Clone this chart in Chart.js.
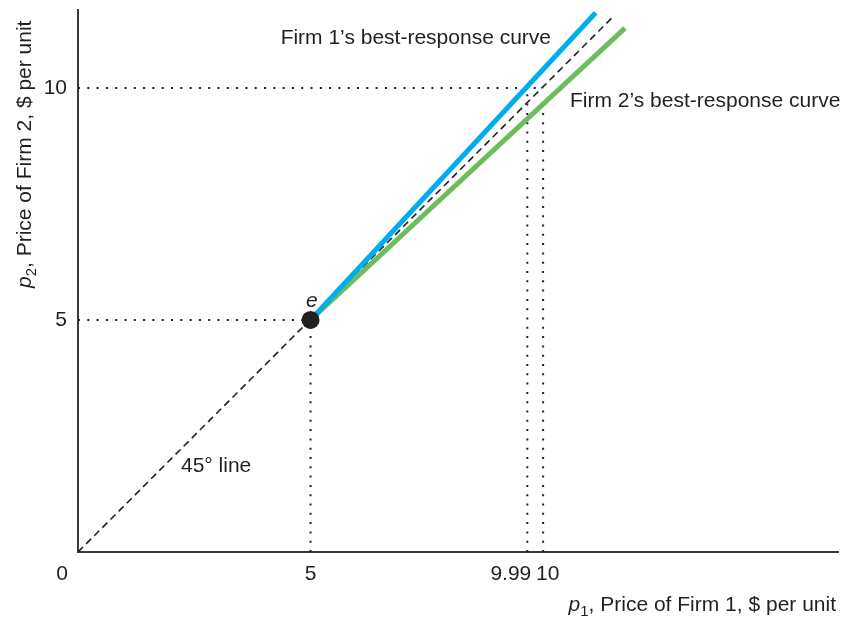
<!DOCTYPE html>
<html>
<head>
<meta charset="utf-8">
<script src="https://cdn.jsdelivr.net/npm/chart.js@4.4.1/dist/chart.umd.min.js"></script>
<style>
  html, body { margin: 0; padding: 0; background: #fff; }
  #wrap { width: 859px; height: 618px; }
</style>
</head>
<body>
<div id="wrap"><canvas id="chart" width="859" height="618"></canvas></div>
<script>
// --- data (axis units) ---
const p1Ticks = [5, 9.66, 10];
const p1TickLabels = ['5', '9.99', '10'];
const p2Ticks = [5, 10];
const p2TickLabels = ['5', '10'];

const diagP1 = [0, 11.5];
const diagP2 = [0, 11.53];
const firm1P1 = [5, 11.13];
const firm1P2 = [5, 11.62];
const firm2P1 = [5, 11.76];
const firm2P2 = [5, 11.29];
const eqP1 = [5];
const eqP2 = [5];

// dotted guide lines: [x0, y0, x1, y1]
const guide10H = [0, 10, 10, 10];
const guide5H = [0, 5, 5, 5];
const guide5V = [5, 0, 5, 5];
const guide999V = [9.66, 0, 9.66, 10.02];
const guide10V = [10, 0, 10, 9.7];

const FONT = '"Liberation Sans", Arial, Helvetica, sans-serif';
const FS = 21;
const TEXT = '#231f20';

function pts(xs, ys) {
  return xs.map((x, i) => ({ x: x, y: ys[i] }));
}
function seg(g) {
  return [{ x: g[0], y: g[1] }, { x: g[2], y: g[3] }];
}
function dotted(g) {
  return {
    data: seg(g), showLine: true, borderColor: '#231f20', borderWidth: 2,
    borderDash: [2, 7.3], pointRadius: 0, fill: false, order: 5
  };
}

// draws the tick labels, titles and annotations
const textPlugin = {
  id: 'texts',
  afterDraw(chart) {
    const ctx = chart.ctx;
    const xs = chart.scales.x, ys = chart.scales.y;
    ctx.save();
    ctx.fillStyle = TEXT;
    ctx.font = FS + 'px ' + FONT;
    ctx.textBaseline = 'middle';

    // x tick labels
    p1Ticks.forEach((v, i) => {
      const px = xs.getPixelForValue(v);
      if (p1TickLabels[i] === '9.99') {
        ctx.textAlign = 'right';
        ctx.fillText(p1TickLabels[i], px + 4, 574);
      } else if (p1TickLabels[i] === '10') {
        ctx.textAlign = 'left';
        ctx.fillText(p1TickLabels[i], px - 7, 574);
      } else {
        ctx.textAlign = 'center';
        ctx.fillText(p1TickLabels[i], px, 574);
      }
    });
    // origin label
    ctx.textAlign = 'center';
    ctx.fillText('0', xs.getPixelForValue(0) - 16, 574);

    // y tick labels
    ctx.textAlign = 'right';
    p2Ticks.forEach((v, i) => {
      ctx.fillText(p2TickLabels[i], xs.left - 11, ys.getPixelForValue(v));
    });

    // annotations
    ctx.textAlign = 'right';
    ctx.fillText('Firm 1\u2019s best-response curve', 551, 38);
    ctx.textAlign = 'left';
    ctx.fillText('Firm 2\u2019s best-response curve', 570, 101);
    ctx.fillText('45\u00b0 line', 181, 466);
    ctx.font = 'italic ' + FS + 'px ' + FONT;
    ctx.fillText('e', 306, 301);

    // x axis title
    ctx.textBaseline = 'alphabetic';
    drawTitle(ctx, 'p', '1', ', Price of Firm 1, $ per unit', 836, 611, true);

    // y axis title (rotated)
    ctx.translate(31, 288);
    ctx.rotate(-Math.PI / 2);
    drawTitle(ctx, 'p', '2', ', Price of Firm 2, $ per unit', 0, 0, false);
    ctx.restore();
  }
};

function drawTitle(ctx, v, sub, rest, x, y, alignRight) {
  ctx.font = 'italic ' + FS + 'px ' + FONT;
  const w1 = ctx.measureText(v).width;
  ctx.font = '15px ' + FONT;
  const w2 = ctx.measureText(sub).width;
  ctx.font = FS + 'px ' + FONT;
  const w3 = ctx.measureText(rest).width;
  let sx = alignRight ? x - (w1 + w2 + w3) : x;
  ctx.textAlign = 'left';
  ctx.font = 'italic ' + FS + 'px ' + FONT;
  ctx.fillText(v, sx, y);
  ctx.font = '15px ' + FONT;
  ctx.fillText(sub, sx + w1, y + 5);
  ctx.font = FS + 'px ' + FONT;
  ctx.fillText(rest, sx + w1 + w2, y);
}

new Chart(document.getElementById('chart'), {
  type: 'scatter',
  data: {
    datasets: [
      dotted(guide10H), dotted(guide5H), dotted(guide5V), dotted(guide999V), dotted(guide10V),
      {
        data: pts(diagP1, diagP2), showLine: true, borderColor: '#231f20', borderWidth: 1.6,
        borderDash: [7, 4.5], pointRadius: 0, order: 4
      },
      {
        data: pts(firm2P1, firm2P2), showLine: true, borderColor: '#6cbd5b', borderWidth: 5,
        pointRadius: 0, order: 3
      },
      {
        data: pts(firm1P1, firm1P2), showLine: true, borderColor: '#00aeef', borderWidth: 5,
        pointRadius: 0, order: 2
      },
      {
        data: pts(eqP1, eqP2), pointRadius: 9, pointBackgroundColor: '#231f20',
        pointBorderWidth: 0, order: 1
      }
    ]
  },
  options: {
    responsive: false,
    devicePixelRatio: 1,
    animation: false,
    layout: { padding: { left: 78, right: 21, top: 10, bottom: 66 } },
    plugins: { legend: { display: false }, tooltip: { enabled: false } },
    scales: {
      x: {
        type: 'linear', min: 0, max: 16.34,
        ticks: { display: false },
        grid: { display: false, drawTicks: false },
        border: { display: true, color: '#3a3a3a', width: 2 }
      },
      y: {
        type: 'linear', min: 0, max: 11.68,
        ticks: { display: false },
        grid: { display: false, drawTicks: false },
        border: { display: true, color: '#3a3a3a', width: 2 }
      }
    }
  },
  plugins: [textPlugin]
});
</script>
</body>
</html>
